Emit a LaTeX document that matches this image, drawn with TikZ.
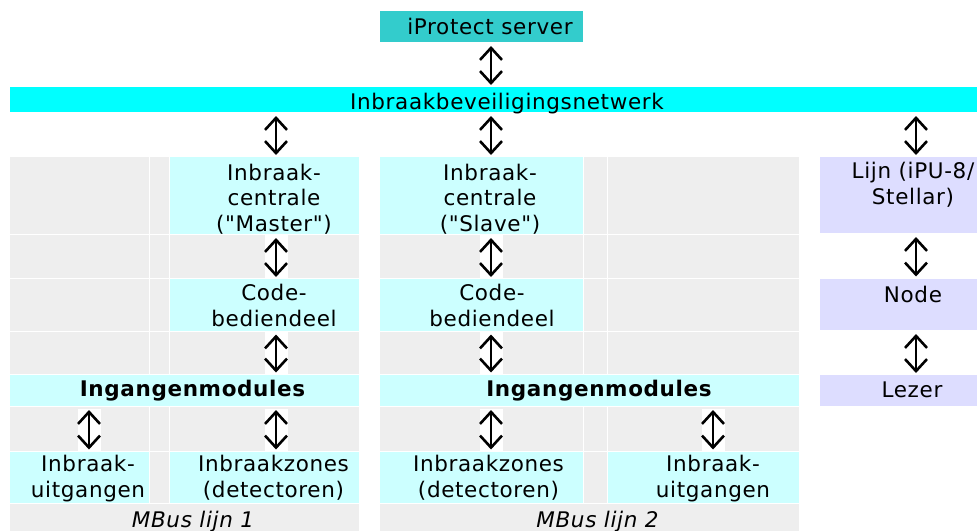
\documentclass[tikz,border=0pt]{standalone}
\usepackage{fontspec}
\setmainfont{DejaVu Sans}[LetterSpace=3, Ligatures=TeXOff]
\usetikzlibrary{arrows.meta}
\definecolor{teal1}{HTML}{33CCCC}
\definecolor{cyan1}{HTML}{00FFFF}
\definecolor{lcyan}{HTML}{CCFFFF}
\definecolor{greyc}{HTML}{EEEEEE}
\definecolor{lav}{HTML}{DDDDFF}
\newcommand\cellbox[6]{\node[cellsty, fill=#2, minimum width={#5-#3}, minimum height={#6-#4}] (#1) at ({(#3+#5)/2},{(#4+#6)/2}) {};}
\newcommand\arrbg[3]{\fill[white] ({#1-11.5},#2) rectangle ({#1+11.5},#3);}
\tikzset{
  cellsty/.style={rectangle, draw=none, inner sep=0pt, outer sep=0pt},
  txt/.style={anchor=base, align=center, inner sep=0pt, font={\fontsize{21.5pt}{25.5pt}\selectfont}},
  updown/.style={line width=2.6pt,
    {Straight Barb[length=12pt,width=22pt]}-{Straight Barb[length=12pt,width=22pt]},
    shorten <=4pt, shorten >=2pt}
}
\begin{document}
\begin{tikzpicture}[x=1pt,y=-1pt]
\useasboundingbox (0,0) rectangle (977,530);
\fill[white] (0,0) rectangle (977,530);
% top
\cellbox{iprotect}{teal1}{380}{11}{583}{42}
\cellbox{net}{cyan1}{10}{87}{977}{112}
% left table
\cellbox{l11}{greyc}{10}{157}{149}{234}
\cellbox{l12}{greyc}{150}{157}{169}{234}
\cellbox{master}{lcyan}{170}{157}{359}{234}
\cellbox{l21}{greyc}{10}{235}{149}{278}
\cellbox{l22}{greyc}{150}{235}{169}{278}
\cellbox{l23}{greyc}{170}{235}{359}{278}
\cellbox{l31}{greyc}{10}{279}{149}{330.5}
\cellbox{l32}{greyc}{150}{279}{169}{330.5}
\cellbox{codeL}{lcyan}{170}{279}{359}{330.5}
\cellbox{l41}{greyc}{10}{331.5}{149}{373.5}
\cellbox{l42}{greyc}{150}{331.5}{169}{373.5}
\cellbox{l43}{greyc}{170}{331.5}{359}{373.5}
\cellbox{ingL}{lcyan}{10}{374.5}{359}{406}
\cellbox{l61}{greyc}{10}{407}{149}{450.5}
\cellbox{l62}{greyc}{150}{407}{169}{450.5}
\cellbox{l63}{greyc}{170}{407}{359}{450.5}
\cellbox{uitL}{lcyan}{10}{451.5}{149}{502.5}
\cellbox{l72}{greyc}{150}{451.5}{169}{502.5}
\cellbox{zonesL}{lcyan}{170}{451.5}{359}{502.5}
\cellbox{mbusL}{greyc}{10}{503.5}{359}{540}
% right table
\cellbox{slave}{lcyan}{380}{157}{583}{234}
\cellbox{r12}{greyc}{584}{157}{607}{234}
\cellbox{r13}{greyc}{608}{157}{799}{234}
\cellbox{r21}{greyc}{380}{235}{583}{278}
\cellbox{r22}{greyc}{584}{235}{607}{278}
\cellbox{r23}{greyc}{608}{235}{799}{278}
\cellbox{codeR}{lcyan}{380}{279}{583}{330.5}
\cellbox{r32}{greyc}{584}{279}{607}{330.5}
\cellbox{r33}{greyc}{608}{279}{799}{330.5}
\cellbox{r41}{greyc}{380}{331.5}{583}{373.5}
\cellbox{r42}{greyc}{584}{331.5}{607}{373.5}
\cellbox{r43}{greyc}{608}{331.5}{799}{373.5}
\cellbox{ingR}{lcyan}{380}{374.5}{799}{406}
\cellbox{r61}{greyc}{380}{407}{583}{450.5}
\cellbox{r62}{greyc}{584}{407}{607}{450.5}
\cellbox{r63}{greyc}{608}{407}{799}{450.5}
\cellbox{zonesR}{lcyan}{380}{451.5}{583}{502.5}
\cellbox{r72}{greyc}{584}{451.5}{607}{502.5}
\cellbox{uitR}{lcyan}{608}{451.5}{799}{502.5}
\cellbox{mbusR}{greyc}{380}{503.5}{799}{540}
% right column
\cellbox{lijn}{lav}{820}{157}{977}{233}
\cellbox{nodec}{lav}{820}{278.5}{977}{330}
\cellbox{lezer}{lav}{820}{375}{977}{405.7}
% arrow backgrounds in grey cells
\arrbg{276}{235}{278}
\arrbg{491}{235}{278}
\arrbg{276}{331.5}{373.5}
\arrbg{491}{331.5}{373.5}
\arrbg{89}{409}{450.5}
\arrbg{276}{409}{450.5}
\arrbg{491}{409}{450.5}
\arrbg{713}{409}{450.5}
% arrow columns
\coordinate (xa) at (89,0);
\coordinate (xb) at (276,0);
\coordinate (xc) at (491,0);
\coordinate (xd) at (713,0);
\coordinate (xe) at (916,0);
\draw[updown] (xc |- iprotect.south) -- (xc |- net.north);
\draw[updown] (xb |- net.south) -- (xb |- master.north);
\draw[updown] (xc |- net.south) -- (xc |- slave.north);
\draw[updown] (xe |- net.south) -- (xe |- lijn.north);
\draw[updown] (xb |- master.south) -- (xb |- codeL.north);
\draw[updown] (xc |- slave.south) -- (xc |- codeR.north);
\draw[updown] (xe |- lijn.south) -- (xe |- nodec.north);
\draw[updown] (xb |- codeL.south) -- (xb |- ingL.north);
\draw[updown] (xc |- codeR.south) -- (xc |- ingR.north);
\draw[updown] (xe |- nodec.south) -- (xe |- lezer.north);
\draw[updown] (xa |- ingL.south) -- (xa |- uitL.north);
\draw[updown] (xb |- ingL.south) -- (xb |- zonesL.north);
\draw[updown] (xc |- ingR.south) -- (xc |- zonesR.north);
\draw[updown] (xd |- ingR.south) -- (xd |- uitR.north);
% texts (base = baseline of the last line)
\node[txt] (tiprotect) at (490,34) {iProtect server};
\node[txt] (tnet) at (507,109) {Inbraakbeveiligingsnetwerk};
\node[txt] (tmaster) at (274,231) {Inbraak-\\centrale\\("Master")};
\node[txt] (tslave) at (490,231) {Inbraak-\\centrale\\("Slave")};
\node[txt] (tcodeL) at (274,326) {Code-\\bediendeel};
\node[txt] (tcodeR) at (492,326) {Code-\\bediendeel};
\node[txt,font={\fontsize{21.5pt}{25.5pt}\selectfont\bfseries}] (tingL) at (192.5,396) {Ingangenmodules};
\node[txt,font={\fontsize{21.5pt}{25.5pt}\selectfont\bfseries}] (tingR) at (599,396) {Ingangenmodules};
\node[txt] (tuitL) at (88,497) {Inbraak-\\uitgangen};
\node[txt] (tzonesL) at (273.5,497) {Inbraakzones\\(detectoren)};
\node[txt] (tzonesR) at (488.5,497) {Inbraakzones\\(detectoren)};
\node[txt] (tuitR) at (713,497) {Inbraak-\\uitgangen};
\node[txt,font={\fontsize{21.5pt}{25.5pt}\selectfont\itshape}] (tmbusL) at (193,527) {MBus lijn 1};
\node[txt,font={\fontsize{21.5pt}{25.5pt}\selectfont\itshape}] (tmbusR) at (597.5,527) {MBus lijn 2};
\node[txt] (tlijn) at (913,204) {Lijn (iPU-8/\\Stellar)};
\node[txt] (tnode) at (913,302) {Node};
\node[txt] (tlezer) at (912,397) {Lezer};
\end{tikzpicture}
\end{document}
